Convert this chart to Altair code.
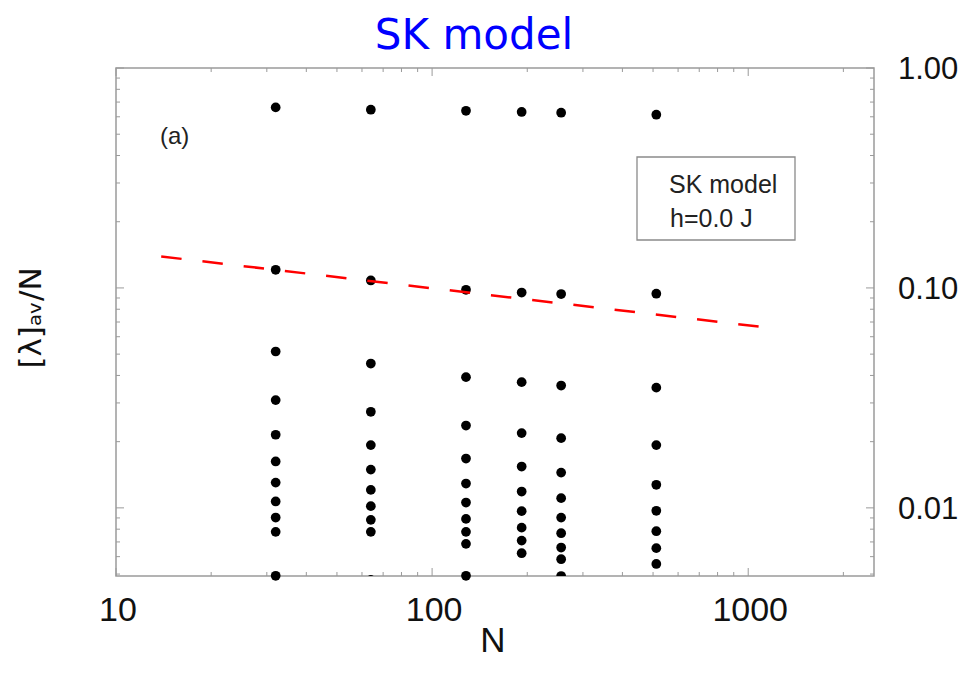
import altair as alt
import pandas as pd

# ---------------- data ----------------
N_values = [32, 64, 128, 192, 256, 512]
lam_32 = [0.662, 0.1209, 0.0514, 0.0309, 0.0215, 0.01625, 0.01303, 0.01069, 0.00904, 0.00778, 0.00491]
lam_64 = [0.646, 0.1081, 0.0453, 0.02734, 0.01929, 0.01493, 0.01207, 0.01018, 0.00882, 0.00778]
lam_128 = [0.639, 0.0981, 0.0393, 0.02367, 0.01676, 0.0129, 0.01057, 0.00891, 0.00778, 0.00686, 0.00491]
lam_192 = [0.631, 0.0953, 0.0373, 0.02187, 0.01541, 0.01186, 0.00966, 0.00813, 0.0071, 0.00622]
lam_256 = [0.626, 0.0938, 0.036, 0.02075, 0.01447, 0.01107, 0.00903, 0.00767, 0.0066, 0.00584]
lam_512 = [0.613, 0.0941, 0.0352, 0.01929, 0.01273, 0.0097, 0.00783, 0.00656, 0.00556]

# points sitting on the lower frame, partly hidden
edge_N = [64, 256]
edge_lam = [0.0047, 0.0049]

# dashed red guide line (end points)
fit_N = [13.9, 1120]
fit_lam = [0.139, 0.0663]

# axis ticks and labels
x_labels = [10, 100, 1000]
x_label_text = ["10", "100", "1000"]
x_major = [10, 100, 1000]
x_minor = [20, 30, 40, 50, 60, 70, 80, 90, 200, 300, 400, 500, 600, 700, 800, 900, 2000]
y_labels = [0.01, 0.1, 1.0]
y_label_text = ["0.01", "0.10", "1.00"]
y_major = [0.01, 0.1, 1.0]
y_minor = [0.005, 0.006, 0.007, 0.008, 0.009, 0.02, 0.03, 0.04, 0.05, 0.06, 0.07, 0.08, 0.09,
           0.2, 0.3, 0.4, 0.5, 0.6, 0.7, 0.8, 0.9]

# ---------------- build tables ----------------
all_lam = [lam_32, lam_64, lam_128, lam_192, lam_256, lam_512]
rows = []
for n, vals in zip(N_values, all_lam):
    for v in vals:
        rows.append({"N": n, "lam": v})
pts = pd.DataFrame(rows)
edge = pd.DataFrame({"N": edge_N, "lam": edge_lam})
fit = pd.DataFrame({"N": fit_N, "lam": fit_lam})
xlab = pd.DataFrame({"v": x_labels, "s": x_label_text})
ylab = pd.DataFrame({"v": y_labels, "s": y_label_text})

W, H = 758, 508
FRAME = "#9a9a9a"
TXT = "#111111"
xs = alt.Scale(type="log", domain=[10, 2500])
ys = alt.Scale(type="log", domain=[0.0049, 1.0])

points = alt.Chart(pts).mark_circle(size=95, color="black", opacity=1, clip=False).encode(
    x=alt.X("N:Q", scale=xs, axis=None),
    y=alt.Y("lam:Q", scale=ys, axis=None),
)

edge_pts = alt.Chart(edge).mark_circle(size=95, color="black", opacity=1, clip=True).encode(
    x=alt.X("N:Q", scale=xs, axis=None),
    y=alt.Y("lam:Q", scale=ys, axis=None),
)

line = alt.Chart(fit).mark_line(color="#ff0000", strokeWidth=2.5, strokeDash=[20.5, 21]).encode(
    x=alt.X("N:Q", scale=xs, axis=None),
    y=alt.Y("lam:Q", scale=ys, axis=None),
)


def xticks(vals, length):
    d = pd.DataFrame({"t": vals})
    bot = alt.Chart(d).mark_rule(color=FRAME, strokeWidth=1).encode(
        x=alt.X("t:Q", scale=xs, axis=None), y=alt.value(H), y2=alt.value(H - length))
    top = alt.Chart(d).mark_rule(color=FRAME, strokeWidth=1).encode(
        x=alt.X("t:Q", scale=xs, axis=None), y=alt.value(0), y2=alt.value(length))
    return [bot, top]


def yticks(vals, length):
    d = pd.DataFrame({"t": vals})
    left = alt.Chart(d).mark_rule(color=FRAME, strokeWidth=1).encode(
        y=alt.Y("t:Q", scale=ys, axis=None), x=alt.value(0), x2=alt.value(length))
    right = alt.Chart(d).mark_rule(color=FRAME, strokeWidth=1).encode(
        y=alt.Y("t:Q", scale=ys, axis=None), x=alt.value(W), x2=alt.value(W - length))
    return [left, right]


# tick labels (drawn through the scales)
x_tick_labels = alt.Chart(xlab).mark_text(font="Liberation Sans", fontSize=34, color=TXT,
                                          align="center", baseline="alphabetic", dx=2).encode(
    x=alt.X("v:Q", scale=xs, axis=None), y=alt.value(H + 45), text="s:N")
y_tick_labels = alt.Chart(ylab).mark_text(font="Liberation Sans", fontSize=31, color=TXT,
                                          align="left", baseline="alphabetic", dy=11).encode(
    y=alt.Y("v:Q", scale=ys, axis=None), x=alt.value(W + 24), text="s:N")

one = pd.DataFrame({"k": [0]})

xtitle = alt.Chart(one).mark_text(text="N", font="Liberation Sans", fontSize=35, color=TXT,
                                  align="center", baseline="alphabetic").encode(
    x=alt.value(377), y=alt.value(H + 76))
legend_box = alt.Chart(one).mark_rect(fill="white", stroke="#8a8a8a", strokeWidth=1.3).encode(
    x=alt.value(521), x2=alt.value(679), y=alt.value(89), y2=alt.value(172))
legend_t1 = alt.Chart(one).mark_text(text="SK model", font="Liberation Sans", fontSize=25,
                                     color="#222", align="left", baseline="alphabetic").encode(
    x=alt.value(553), y=alt.value(125))
legend_t2 = alt.Chart(one).mark_text(text="h=0.0 J", font="Liberation Sans", fontSize=25,
                                     color="#222", align="left", baseline="alphabetic").encode(
    x=alt.value(554), y=alt.value(159))
panel = alt.Chart(one).mark_text(text="(a)", font="Liberation Sans", fontSize=24,
                                 color="#222", align="left", baseline="middle").encode(
    x=alt.value(44), y=alt.value(69))
ytitle = alt.Chart(one).mark_text(text="[λ]ₐᵥ/N", font="DejaVu Sans", fontSize=31,
                                  color=TXT, align="center", baseline="middle", angle=270).encode(
    x=alt.value(-84), y=alt.value(250))
title = alt.Chart(one).mark_text(text="SK model", font="DejaVu Sans", fontSize=42,
                                 color="#0000ff", align="center", baseline="alphabetic").encode(
    x=alt.value(358), y=alt.value(-19))

layers = [points, edge_pts]
layers += xticks(x_major, 8) + xticks(x_minor, 4) + yticks(y_major, 8) + yticks(y_minor, 4)
layers += [line, legend_box, legend_t1, legend_t2, panel,
           x_tick_labels, y_tick_labels, xtitle, ytitle, title]

chart = alt.layer(*layers).properties(
    width=W, height=H,
    background="white",
    autosize=alt.AutoSizeParams(type="none"),
    padding={"left": 108, "top": 60, "right": 90, "bottom": 84},
).configure_view(stroke=FRAME, strokeWidth=1.5)

chart.save("out.html", embed_options={"renderer": "svg", "actions": False})
